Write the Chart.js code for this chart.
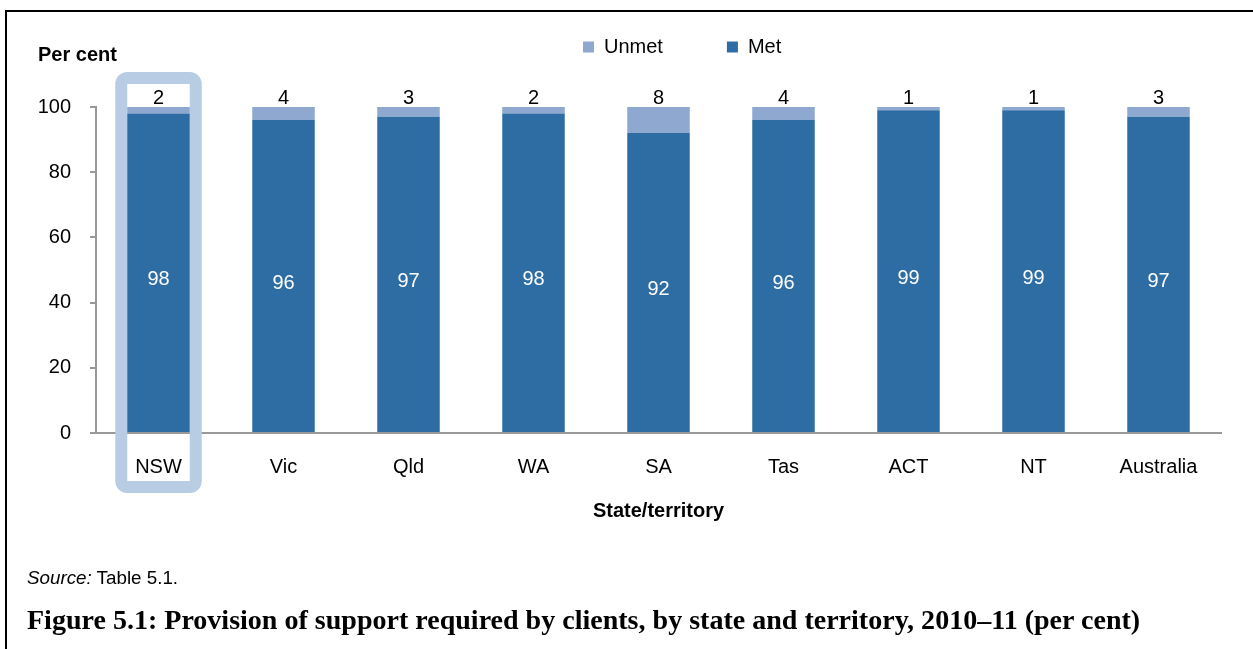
<!DOCTYPE html>
<html><head><meta charset="utf-8">
<script src="https://cdn.jsdelivr.net/npm/chart.js@4/dist/chart.umd.min.js"></script>
<style>
html,body{margin:0;padding:0;background:#fff;width:1253px;height:649px;overflow:hidden;}
#frame{position:absolute;left:5px;top:10px;width:1300px;height:700px;border-top:2px solid #000;border-left:2px solid #000;}
#wrap{position:absolute;left:0;top:0;width:1253px;height:649px;}
#source{position:absolute;left:27px;top:567px;font:18.8px "Liberation Sans",Arial,sans-serif;color:#000;white-space:nowrap;}
#caption{position:absolute;left:27px;top:604px;font:bold 23px "Liberation Serif","Times New Roman",serif;color:#000;white-space:nowrap;}
</style></head><body>
<div id="frame"></div>
<div id="wrap"><canvas id="c" width="1253" height="649"></canvas></div>
<div id="source"><i>Source:</i> Table 5.1.</div>
<div id="caption">Figure 5.1: Provision of support required by clients, by state and territory, 2010–11 (per cent)</div>
<script>
const categories = ['NSW','Vic','Qld','WA','SA','Tas','ACT','NT','Australia'];
const metValues = [98,96,97,98,92,96,99,99,97];
const unmetValues = [2,4,3,2,8,4,1,1,3];
const yTicks = [0,20,40,60,80,100];
const seriesNames = ['Met','Unmet'];

const FONT = '"Liberation Sans", Arial, sans-serif';
const MET_COLOR = '#2e6ca4';
const UNMET_COLOR = '#8ea8cf';

// fit caption width to reference
(function(){
  const cap = document.getElementById('caption');
  const w = cap.offsetWidth;
  if (w > 0) cap.style.fontSize = (23 * 1113 / w).toFixed(2) + 'px';
})();

const legendPlace = {
  id: 'legendPlace',
  beforeInit(chart) {
    const fit = chart.legend.fit;
    chart.legend.fit = function() { fit.call(this); this.height = 107; };
  },
  afterLayout(chart) {
    const lg = chart.legend;
    lg.left = 583 - 64;
    lg.top = -27;
  }
};

const highlight = {
  id: 'highlight',
  beforeDatasetsDraw(chart) {
    const bar = chart.getDatasetMeta(0).data[0];
    if (!bar) return;
    const ctx = chart.ctx;
    const half = bar.width / 2 + 6;
    const top = chart.scales.y.getPixelForValue(100) - 29;
    const bottom = chart.chartArea.bottom + 54;
    ctx.save();
    ctx.strokeStyle = '#b8cce4';
    ctx.lineWidth = 12;
    ctx.beginPath();
    ctx.roundRect(bar.x - half, top, 2 * half, bottom - top, 6);
    ctx.stroke();
    ctx.restore();
  }
};

const labels = {
  id: 'labels',
  afterDatasetsDraw(chart) {
    const ctx = chart.ctx;
    ctx.save();
    ctx.font = '20px ' + FONT;
    ctx.textAlign = 'center';
    chart.getDatasetMeta(0).data.forEach((bar, i) => {
      ctx.fillStyle = '#fff';
      ctx.textBaseline = 'middle';
      ctx.fillText(String(metValues[i]), bar.x, (bar.y + bar.base) / 2 + 7);
    });
    chart.getDatasetMeta(1).data.forEach((bar, i) => {
      ctx.fillStyle = '#000';
      ctx.textBaseline = 'alphabetic';
      ctx.fillText(String(unmetValues[i]), bar.x, bar.y - 3);
    });
    // y axis title
    ctx.font = 'bold 20px ' + FONT;
    ctx.textAlign = 'left';
    ctx.fillStyle = '#000';
    ctx.fillText('Per cent', 38, 61);
    ctx.restore();
  }
};

new Chart(document.getElementById('c'), {
  type: 'bar',
  data: {
    labels: categories,
    datasets: [
      { label: seriesNames[0], data: metValues, backgroundColor: MET_COLOR, borderWidth: 0 },
      { label: seriesNames[1], data: unmetValues, backgroundColor: UNMET_COLOR, borderWidth: 0 }
    ]
  },
  options: {
    responsive: false,
    animation: false,
    devicePixelRatio: 1,
    layout: { padding: { left: 0, right: 32, top: 0, bottom: 0 } },
    datasets: { bar: { barPercentage: 0.5, categoryPercentage: 1 } },
    plugins: {
      legend: {
        position: 'top',
        align: 'start',
        reverse: true,
        labels: {
          boxWidth: 11, boxHeight: 11, padding: 64,
          color: '#000',
          font: { family: FONT, size: 20 }
        }
      },
      tooltip: { enabled: false }
    },
    scales: {
      x: {
        stacked: true,
        afterFit(scale) { scale.height = 216; },
        grid: { display: false },
        border: { display: true, color: '#999', width: 2 },
        ticks: { color: '#000', padding: 14, font: { family: FONT, size: 20 } },
        title: {
          display: true, text: 'State/territory', color: '#000',
          font: { family: FONT, size: 20, weight: 'bold' },
          padding: { top: 0, bottom: 126 }
        }
      },
      y: {
        stacked: true,
        min: 0, max: 100,
        afterFit(scale) { scale.width = 96; },
        afterBuildTicks(scale) { scale.ticks = yTicks.map(v => ({ value: v })); },
        grid: { drawOnChartArea: false, drawTicks: true, tickLength: 6, color: '#999', lineWidth: 2 },
        border: { display: true, color: '#999', width: 2 },
        ticks: { color: '#000', padding: 19, font: { family: FONT, size: 20 } }
      }
    }
  },
  plugins: [legendPlace, highlight, labels]
});
</script>
</body></html>
